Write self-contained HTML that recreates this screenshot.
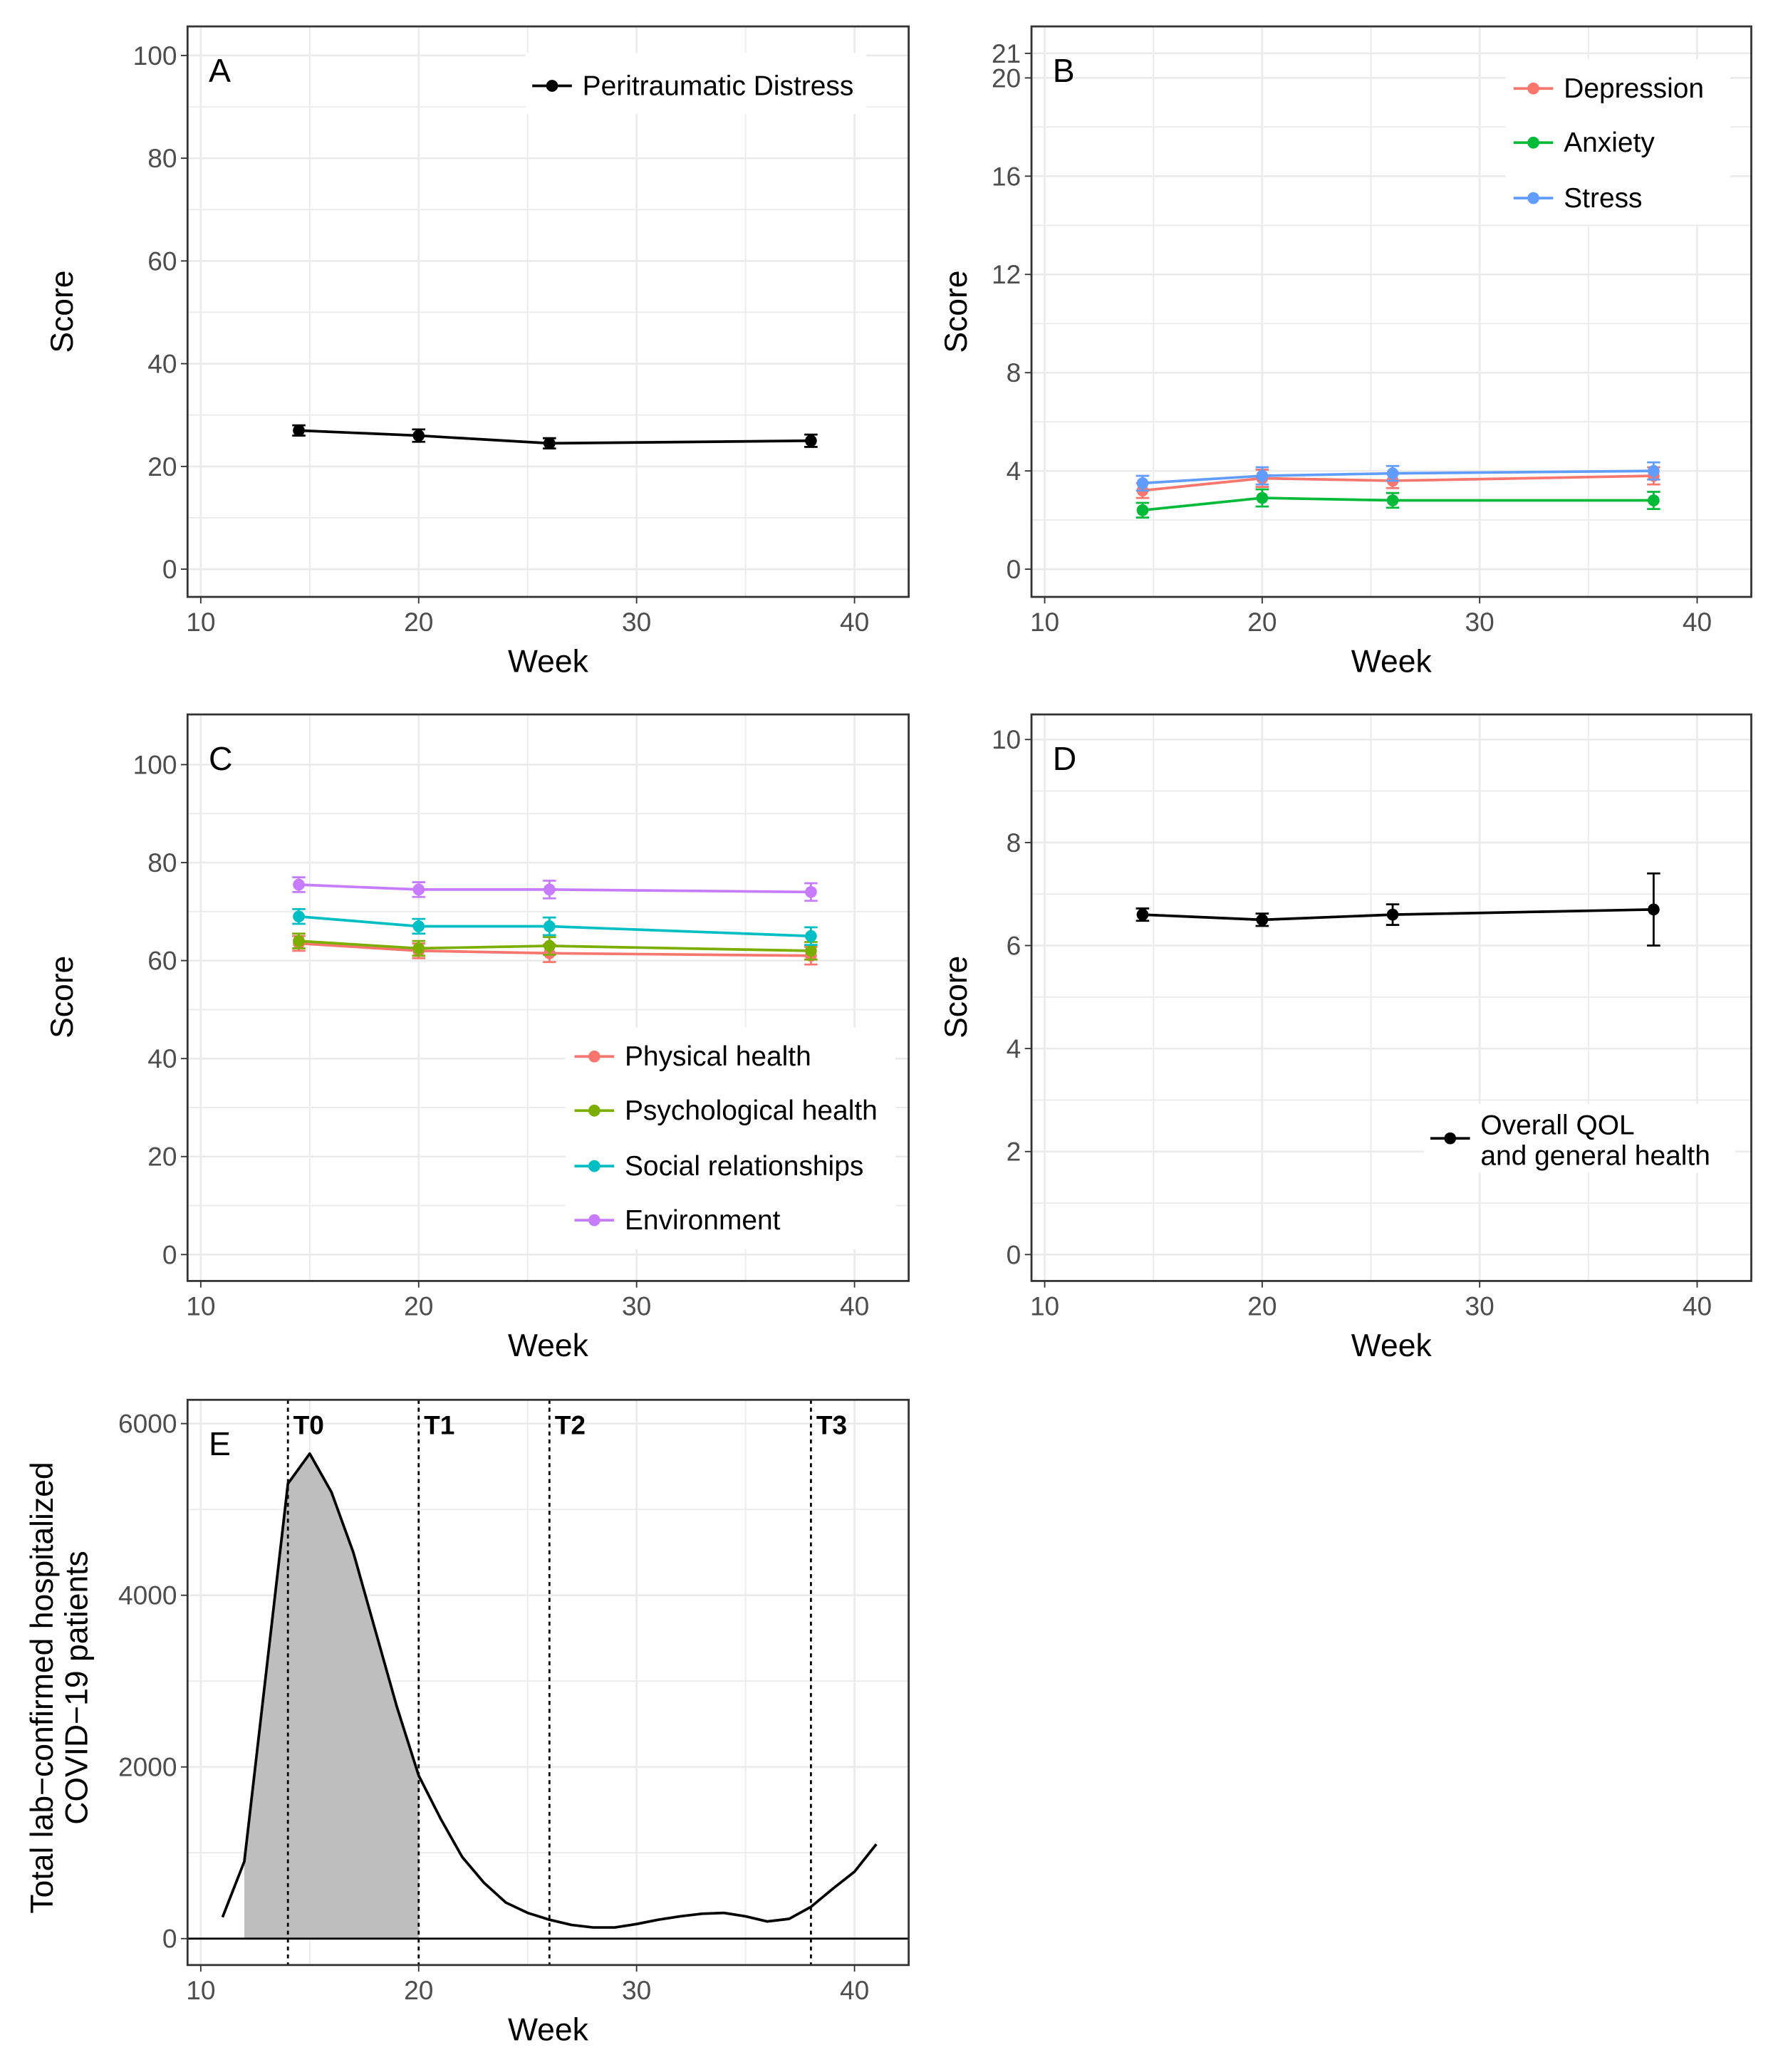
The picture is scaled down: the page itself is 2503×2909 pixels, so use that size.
<!DOCTYPE html>
<html><head><meta charset="utf-8"><style>
html,body{margin:0;padding:0;background:#fff;}
svg{display:block;}
text{font-family:"Liberation Sans",Arial,sans-serif;}
</style></head><body>
<svg id="fig" xmlns="http://www.w3.org/2000/svg" width="2503" height="2909" viewBox="0 0 1350 1569"></svg>
<script>
// ---- data ----
const weeks = [14.5, 20, 26, 38];
const distress = [27, 26, 24.5, 25];
const distressErr = [1, 1.2, 1, 1.2];
const depression = [3.2, 3.7, 3.6, 3.8];
const anxiety = [2.4, 2.9, 2.8, 2.8];
const stress = [3.5, 3.8, 3.9, 4.0];
const dasErr = [0.3, 0.35, 0.3, 0.35];
const physical = [63.5, 62, 61.5, 61];
const psychological = [64, 62.5, 63, 62];
const social = [69, 67, 67, 65];
const environment = [75.5, 74.5, 74.5, 74];
const qolErr = [1.5, 1.5, 1.8, 1.8];
const overallQol = [6.6, 6.5, 6.6, 6.7];
const overallErr = [0.12, 0.12, 0.2, 0.7];
const eWeeks = [11,12,13,14,15,16,17,18,19,20,21,22,23,24,25,26,27,28,29,30,31,32,33,34,35,36,37,38,39,40,41];
const eCases = [250,900,3100,5300,5650,5200,4500,3600,2700,1900,1400,950,650,420,300,220,160,130,130,170,220,260,290,300,260,200,230,370,580,780,1100];
const timepoints = [14, 20, 26, 38];
const timepointLabels = ["T0","T1","T2","T3"];
const xTicks = [10, 20, 30, 40];
const ticksA = [0,20,40,60,80,100];
const ticksB = [0,4,8,12,16,20,21];
const ticksC = [0,20,40,60,80,100];
const ticksD = [0,2,4,6,8,10];
const ticksE = [0,2000,4000,6000];

const NS = "http://www.w3.org/2000/svg";
const svg = document.getElementById('fig');
function el(tag, attrs, parent, txt){
  const e = document.createElementNS(NS, tag);
  for (const k in attrs) e.setAttribute(k, attrs[k]);
  if (txt !== undefined) e.textContent = txt;
  (parent||svg).appendChild(e);
  return e;
}
function panel(cfg){
  const g = el('g', {});
  
  
  const x = v => cfg.x10 + (v - 10) * (cfg.x40 - cfg.x10) / 30;
  const y = v => cfg.y0 + (v - cfg.v0) * (cfg.y1 - cfg.y0) / (cfg.v1 - cfg.v0);
  // background
  el('rect', {x:cfg.L, y:cfg.T, width:cfg.R-cfg.L, height:cfg.B-cfg.T, fill:'#fff'}, g);
  // grid
  [10,15,20,25,30,35,40].forEach(v=>{
    el('line',{x1:x(v),x2:x(v),y1:cfg.T,y2:cfg.B,stroke:'#ebebeb','stroke-width':v%10?1:1.5},g);
  });
  cfg.minor.forEach(v=>{ el('line',{x1:cfg.L,x2:cfg.R,y1:y(v),y2:y(v),stroke:'#ebebeb','stroke-width':1},g); });
  cfg.ticks.forEach(v=>{ el('line',{x1:cfg.L,x2:cfg.R,y1:y(v),y2:y(v),stroke:'#ebebeb','stroke-width':1.5},g); });
  // ticks & labels
  cfg.ticks.forEach(v=>{
    el('line',{x1:cfg.L-5,x2:cfg.L,y1:y(v),y2:y(v),stroke:'#333','stroke-width':1},g);
    const t = el('text',{x:cfg.L-8,y:y(v)+7,'text-anchor':'end','font-size':20,fill:'#4d4d4d'},g,String(v));
    
    
  });
  xTicks.forEach(v=>{
    el('line',{x1:x(v),x2:x(v),y1:cfg.B,y2:cfg.B+5,stroke:'#333','stroke-width':1},g);
    const t = el('text',{x:x(v),y:cfg.B+26,'text-anchor':'middle','font-size':20,fill:'#4d4d4d'},g,String(v));
    
    
  });
  const xt = el('text',{x:(cfg.L+cfg.R)/2,y:cfg.B+57,'text-anchor':'middle','font-size':24,fill:'#000'},g,'Week');
  
  
  const lt = el('text',{x:cfg.L+16,y:cfg.T+42,'font-size':25,fill:'#000'},g,cfg.letter);
  
  
  return {g, x, y};
}
function series(p, vals, errs, color, name){
  const sg = el('g', {}, p.g);
  
  
  const pts = weeks.map((w,i)=>p.x(w)+','+p.y(vals[i])).join(' ');
  el('polyline',{points:pts,fill:'none',stroke:color,'stroke-width':2},sg);
  weeks.forEach((w,i)=>{
    const cx=p.x(w), lo=p.y(vals[i]-errs[i]), hi=p.y(vals[i]+errs[i]);
    el('line',{x1:cx,x2:cx,y1:lo,y2:hi,stroke:color,'stroke-width':1.5},sg);
    el('line',{x1:cx-5,x2:cx+5,y1:lo,y2:lo,stroke:color,'stroke-width':1.5},sg);
    el('line',{x1:cx-5,x2:cx+5,y1:hi,y2:hi,stroke:color,'stroke-width':1.5},sg);
    const c = el('circle',{cx:cx,cy:p.y(vals[i]),r:4.5,fill:color},sg);
    
    
  });
}
function legend(g, x0, yy, color, label, label2){
  const lg = el('g',{},g);
  
  
  el('line',{x1:x0,x2:x0+30,y1:yy,y2:yy,stroke:color,'stroke-width':2},lg);
  el('circle',{cx:x0+15,cy:yy,r:4.5,fill:color},lg);
  if(label2){
    el('text',{x:x0+38,y:yy-3,'font-size':21,fill:'#000'},lg,label);
    el('text',{x:x0+38,y:yy+20,'font-size':21,fill:'#000'},lg,label2);
  } else el('text',{x:x0+38,y:yy+7,'font-size':21,fill:'#000'},lg,label);
}
function border(p,cfg){ el('rect',{x:cfg.L,y:cfg.T,width:cfg.R-cfg.L,height:cfg.B-cfg.T,fill:'none',stroke:'#333','stroke-width':1.5},p.g); }
function ytitle(g, cx, cy, lines){
  const t = el('text',{transform:`translate(${cx},${cy}) rotate(-90)`,'text-anchor':'middle','font-size':24,fill:'#000'},g);
  
  
  lines.forEach((s,i)=>{ el('tspan',{x:0,dy:i?26:0},t,s); });
}

// Panel A
const cA = {letter:'A',L:142,R:688,T:20,B:452,x10:152,x40:647,v0:0,v1:100,y0:431,y1:42,ticks:ticksA,minor:[10,30,50,70,90]};
const pA = panel(cA);
el('rect',{x:398,y:40,width:258,height:46,fill:'#fff'},pA.g);
legend(pA.g,403,65,'#000','Peritraumatic Distress');
series(pA, distress, distressErr, '#000', 'series-peritraumatic-distress');
border(pA,cA); ytitle(pA.g,55,236,['Score']);

// Panel B
const cB = {letter:'B',L:781,R:1326,T:20,B:452,x10:791,x40:1285,v0:0,v1:20,y0:431,y1:59,ticks:ticksB,minor:[2,6,10,14,18]};
const pB = panel(cB);
el('rect',{x:1140,y:45,width:170,height:125,fill:'#fff'},pB.g);
legend(pB.g,1146,67,'#F8766D','Depression');
legend(pB.g,1146,108,'#00BA38','Anxiety');
legend(pB.g,1146,150,'#619CFF','Stress');
series(pB, anxiety, dasErr, '#00BA38', 'series-anxiety');
series(pB, depression, dasErr, '#F8766D', 'series-depression');
series(pB, stress, dasErr, '#619CFF', 'series-stress');
border(pB,cB); ytitle(pB.g,732,236,['Score']);

// Panel C
const cC = {letter:'C',L:142,R:688,T:541,B:970,x10:152,x40:647,v0:0,v1:100,y0:950,y1:579,ticks:ticksC,minor:[10,30,50,70,90]};
const pC = panel(cC);
el('rect',{x:428,y:778,width:250,height:168,fill:'#fff'},pC.g);
legend(pC.g,435,800,'#F8766D','Physical health');
legend(pC.g,435,841,'#7CAE00','Psychological health');
legend(pC.g,435,883,'#00BFC4','Social relationships');
legend(pC.g,435,924,'#C77CFF','Environment');
series(pC, physical, qolErr, '#F8766D', 'series-physical-health');
series(pC, psychological, qolErr, '#7CAE00', 'series-psychological-health');
series(pC, social, qolErr, '#00BFC4', 'series-social-relationships');
series(pC, environment, qolErr, '#C77CFF', 'series-environment');
border(pC,cC); ytitle(pC.g,55,755,['Score']);

// Panel D
const cD = {letter:'D',L:781,R:1326,T:541,B:970,x10:791,x40:1285,v0:0,v1:10,y0:950,y1:560,ticks:ticksD,minor:[1,3,5,7,9]};
const pD = panel(cD);
el('rect',{x:1078,y:836,width:236,height:52,fill:'#fff'},pD.g);
legend(pD.g,1083,862,'#000','Overall QOL','and general health');
series(pD, overallQol, overallErr, '#000', 'series-overall-qol');
border(pD,cD); ytitle(pD.g,732,755,['Score']);

// Panel E
const cE = {letter:'E',L:142,R:688,T:1060,B:1488,x10:152,x40:647,v0:0,v1:6000,y0:1468,y1:1078,ticks:ticksE,minor:[1000,3000,5000]};
const pE = panel(cE);
(function(){
  const idx = eWeeks.map((w,i)=>i).filter(i=>eWeeks[i]>=12 && eWeeks[i]<=20);
  let d = `M${pE.x(eWeeks[idx[0]])},${pE.y(0)}`;
  idx.forEach(i=>{ d += ` L${pE.x(eWeeks[i])},${pE.y(eCases[i])}`; });
  d += ` L${pE.x(eWeeks[idx[idx.length-1]])},${pE.y(0)} Z`;
  const a = el('path',{d:d,fill:'#bebebe'},pE.g);
  
  
})();
el('line',{x1:cE.L,x2:cE.R,y1:pE.y(0),y2:pE.y(0),stroke:'#000','stroke-width':1.5},pE.g);
timepoints.forEach((w,i)=>{
  const l = el('line',{x1:pE.x(w),x2:pE.x(w),y1:cE.T,y2:cE.B,stroke:'#000','stroke-width':1.5,'stroke-dasharray':'3,3'},pE.g);
  
  
  const t = el('text',{x:pE.x(w)+4,y:1086,'font-size':20,'font-weight':'bold',fill:'#000'},pE.g,timepointLabels[i]);
  
  
});
(function(){
  const pts = eWeeks.map((w,i)=>pE.x(w)+','+pE.y(eCases[i])).join(' ');
  const l = el('polyline',{points:pts,fill:'none',stroke:'#000','stroke-width':2,'stroke-linejoin':'round'},pE.g);
  
  
})();
border(pE,cE); ytitle(pE.g,40,1278,['Total lab−confirmed hospitalized','COVID−19 patients']);
</script>
</body></html>
